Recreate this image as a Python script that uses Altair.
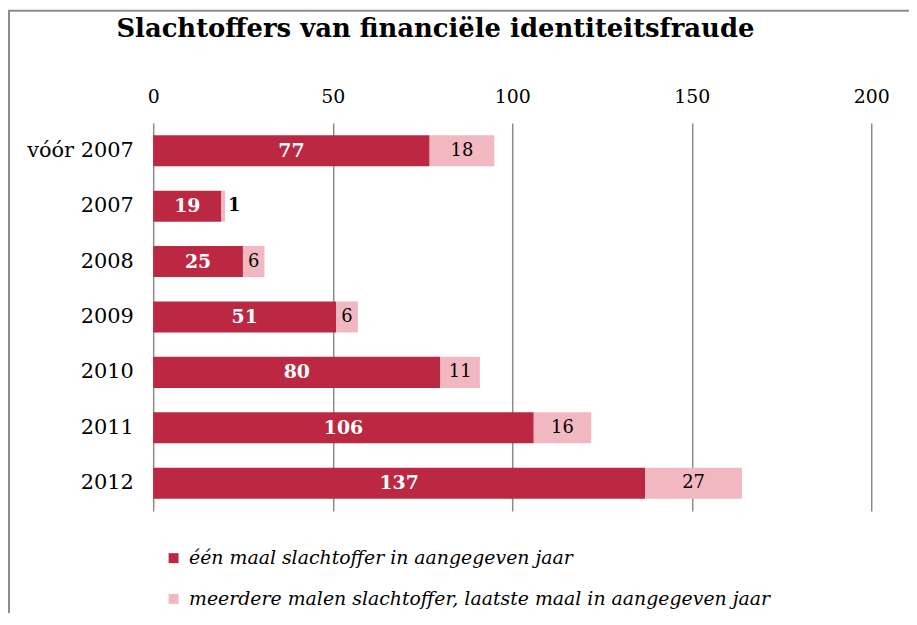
import altair as alt
import pandas as pd

categories = ["vóór 2007", "2007", "2008", "2009", "2010", "2011", "2012"]
once = [77, 19, 25, 51, 80, 106, 137]
multi = [18, 1, 6, 6, 11, 16, 27]
series = ["één maal slachtoffer in aangegeven jaar",
          "meerdere malen slachtoffer, laatste maal in aangegeven jaar"]
colors = ["#BC2841", "#F2B8C2"]
x_ticks = [0, 50, 100, 150, 200]

rows = []
for c, a, b in zip(categories, once, multi):
    rows.append(dict(jaar=c, reeks=series[0], waarde=a, start=0, eind=a,
                     midden=a / 2, binnen=True))
    rows.append(dict(jaar=c, reeks=series[1], waarde=b, start=a, eind=a + b,
                     midden=a + b / 2, binnen=b >= 3))
df = pd.DataFrame(rows)

FONT = "DejaVu Serif"

y = alt.Y("jaar:N", sort=categories, title=None,
          scale=alt.Scale(paddingInner=0.44, paddingOuter=0.22),
          axis=alt.Axis(labelFont=FONT, labelFontSize=21, labelColor="black",
                        labelPadding=20, ticks=False, domain=False))

base = alt.Chart(df)

bars = base.mark_bar().encode(
    x=alt.X("start:Q", title=None,
            scale=alt.Scale(domain=[0, 200], nice=False),
            axis=alt.Axis(orient="top", values=x_ticks, grid=True,
                          gridColor="#8a8a8a", gridWidth=1.5, ticks=False,
                          domain=False, labelFont=FONT, labelFontSize=19,
                          labelColor="black", labelPadding=17,
                          labelFlush=False)),
    x2="eind:Q",
    y=y,
    color=alt.Color("reeks:N", sort=series,
                    scale=alt.Scale(domain=series, range=colors),
                    legend=alt.Legend(orient="none", legendX=11, legendY=428,
                                      title=None, symbolType="square",
                                      symbolSize=100, symbolStrokeWidth=0,
                                      labelFont=FONT, labelFontSize=19,
                                      labelFontStyle="italic",
                                      labelColor="black", labelOffset=6,
                                      rowPadding=21, labelLimit=800)),
)

txt_dark = base.transform_filter(alt.datum.reeks == series[0]).mark_text(
    font=FONT, fontSize=19, fontWeight="bold", color="white", baseline="middle"
).encode(x="midden:Q", y=y, text="waarde:Q")

txt_light = base.transform_filter(
    (alt.datum.reeks == series[1]) & alt.datum.binnen
).mark_text(font=FONT, fontSize=18, color="black", baseline="middle").encode(
    x="midden:Q", y=y, text="waarde:Q")

txt_out = base.transform_filter(
    (alt.datum.reeks == series[1]) & (alt.datum.binnen == False)
).mark_text(font=FONT, fontSize=18, fontWeight="bold", color="black",
            align="left", dx=3, baseline="middle").encode(
    x="eind:Q", y=y, text="waarde:Q")

frame_df = pd.DataFrame({"k": [0]})
frame_left = alt.Chart(frame_df).mark_rule(color="#8c8c8c", strokeWidth=2).encode(
    x=alt.value(-145), y=alt.value(-113), y2=alt.value(520))
frame_top = alt.Chart(frame_df).mark_rule(color="#8c8c8c", strokeWidth=2).encode(
    x=alt.value(-146), x2=alt.value(770), y=alt.value(-113))

chart = alt.layer(bars, txt_dark, txt_light, txt_out, frame_left, frame_top).properties(
    width=722, height=390,
    autosize=alt.AutoSizeParams(type="none"),
    padding={"left": 146, "top": 114, "right": 38, "bottom": 101},
    title=alt.TitleParams("Slachtoffers van financiële identiteitsfraude",
                          anchor="start", frame="group", dx=-37, offset=0, dy=32,
                          font=FONT, fontSize=26, fontWeight="bold",
                          color="black"),
).configure_view(stroke=None)

chart.save("out.html", embed_options={"renderer": "svg", "actions": False})
